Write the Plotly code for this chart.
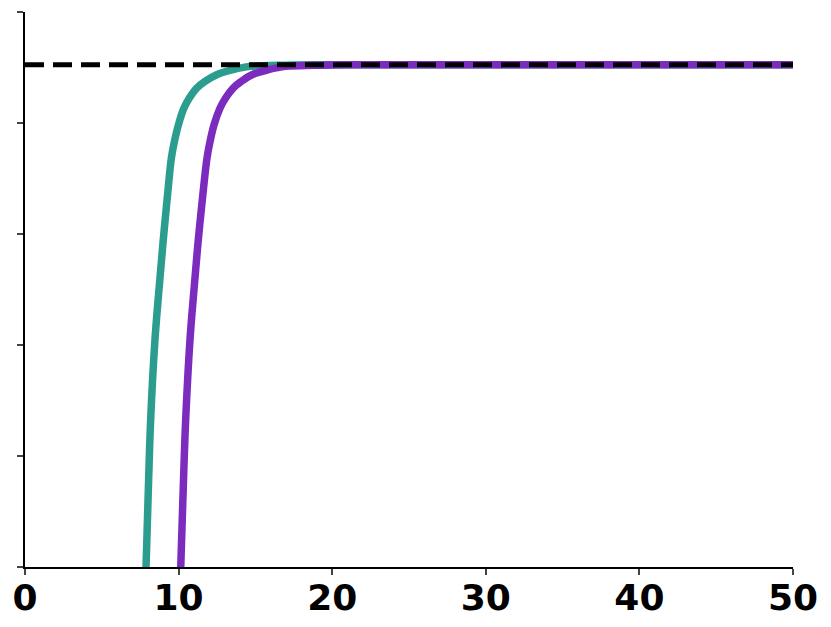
import plotly.graph_objects as go

# values (y on a 0..1 scale)
level_y = [0.0, 0.14, 0.265, 0.409, 0.499, 0.589, 0.679, 0.737, 0.767, 0.797, 0.827,
           0.845, 0.863, 0.875, 0.887, 0.896, 0.902, 0.904, 0.905, 0.905, 0.905]

teal_x = [7.88, 8.03, 8.18, 8.46, 8.72, 9.0, 9.31, 9.53, 9.73, 9.99, 10.35,
          10.70, 11.18, 11.72, 12.48, 13.54, 14.65, 16.5, 19.0, 30.0, 50.0]
teal_y = level_y

purple_x = [10.14, 10.3, 10.46, 10.74, 11.0, 11.28, 11.61, 11.85, 12.05, 12.31, 12.7,
            13.06, 13.55, 14.08, 14.78, 15.85, 16.95, 18.8, 21.3, 30.0, 50.0]
purple_y = level_y

plateau_x = [0, 50]
plateau_y = [0.905, 0.905]

x_ticks = [0, 10, 20, 30, 40, 50]
y_ticks = [0, 0.2, 0.4, 0.6, 0.8, 1.0]

TEAL = "#2a9d8f"
PURPLE = "#7b2cbf"

fig = go.Figure()
fig.add_trace(go.Scatter(x=teal_x, y=teal_y, mode="lines", line=dict(color=TEAL, width=7.5, shape="spline", smoothing=1.0)))
fig.add_trace(go.Scatter(x=purple_x, y=purple_y, mode="lines", line=dict(color=PURPLE, width=7.5, shape="spline", smoothing=1.0)))
fig.add_trace(go.Scatter(x=plateau_x, y=plateau_y, mode="lines", line=dict(color="black", width=5, dash="19px,9px")))

fig.update_layout(
    width=831, height=627,
    margin=dict(l=25, r=38, t=12, b=60),
    plot_bgcolor="white", paper_bgcolor="white",
    showlegend=False,
    font=dict(family="DejaVu Sans", color="black"),
    xaxis=dict(
        range=[0, 50], tickvals=x_ticks, ticks="outside", ticklen=6, tickwidth=1.5,
        showline=True, linecolor="black", linewidth=1.5, showgrid=False, zeroline=False,
        tickfont=dict(size=36, family="DejaVu Sans", weight="bold"), automargin=False,
        ticklabelstandoff=-8,
    ),
    yaxis=dict(
        range=[0, 1], tickvals=y_ticks, showticklabels=False, ticks="outside", ticklen=6, tickwidth=1.5,
        showline=True, linecolor="black", linewidth=1.5, showgrid=False, zeroline=False, automargin=False,
    ),
)

# drop the browser's default body margin so the figure sits at the page corner
fig.write_html("out.html", config={"displayModeBar": False},
               post_script="document.body.style.margin='0';")
